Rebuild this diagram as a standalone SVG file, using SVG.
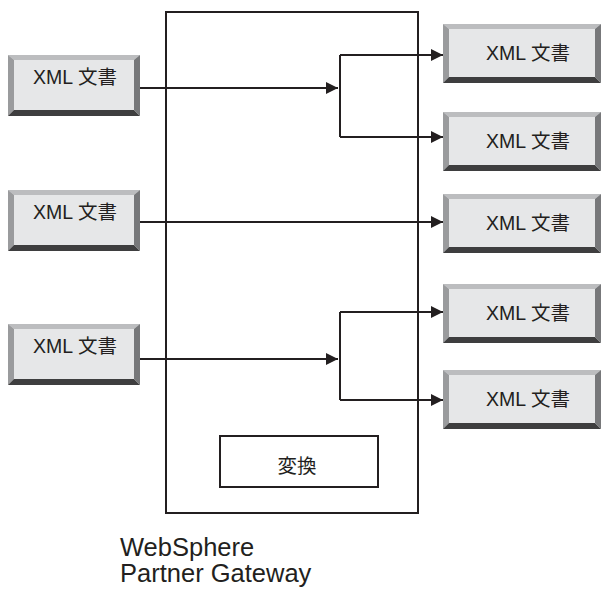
<svg xmlns="http://www.w3.org/2000/svg" xmlns:xlink="http://www.w3.org/1999/xlink" width="601" height="589" viewBox="0 0 601 589">
<style>
.face{fill:#e6e7e8}
.bt{fill:#bcbdbf}
.bl{fill:#9a9b9d}
.bb{fill:#3e3e3f}
.br{fill:#77787a}
.lbl{font-family:"Liberation Sans","Noto Sans CJK JP",sans-serif;font-size:19.5px;fill:#231f20;text-anchor:middle}
.box{fill:none;stroke:#231f20;stroke-width:2}
.con{fill:none;stroke:#231f20;stroke-width:2}
.cap{font-family:"Liberation Sans","Noto Sans CJK JP",sans-serif;font-size:25.5px;fill:#231f20}
</style>
<defs>
<marker id="ah" markerUnits="userSpaceOnUse" markerWidth="12" markerHeight="12" refX="12" refY="6" orient="auto">
<path d="M0,0 L12,6 L0,12 z" fill="#231f20"/>
</marker>
<g id="btnL">
<rect class="face" x="0" y="0" width="132" height="61"/>
<polygon class="bt" points="0,0 132,0 126,5 6,5"/>
<polygon class="bl" points="0,0 6,5 6,55 0,61"/>
<polygon class="bb" points="0,61 6,55 126,55 132,61"/>
<polygon class="br" points="132,0 132,61 126,55 126,5"/>
</g>
<g id="btnR">
<rect class="face" x="0" y="0" width="158" height="59"/>
<polygon class="bt" points="0,0 158,0 152,5 6,5"/>
<polygon class="bl" points="0,0 6,5 6,53 0,59"/>
<polygon class="bb" points="0,59 6,53 152,53 158,59"/>
<polygon class="br" points="158,0 158,59 152,53 152,5"/>
</g>
</defs>
<rect width="601" height="589" fill="#ffffff"/>
<g id="gateway">
<rect class="box" x="166" y="12" width="252" height="501"/>
</g>
<g id="transform">
<rect class="box" x="220" y="436" width="158" height="51"/>
<text class="lbl" x="297" y="473">変換</text>
</g>
<g id="in1"><use xlink:href="#btnL" x="8" y="55"/><text class="lbl" x="75" y="84">XML 文書</text></g>
<g id="in2"><use xlink:href="#btnL" x="8" y="190"/><text class="lbl" x="75" y="219">XML 文書</text></g>
<g id="in3"><use xlink:href="#btnL" x="8" y="324"/><text class="lbl" x="75" y="353">XML 文書</text></g>
<g id="out1"><use xlink:href="#btnR" x="443" y="24"/><text class="lbl" x="528" y="60">XML 文書</text></g>
<g id="out2"><use xlink:href="#btnR" x="443" y="112"/><text class="lbl" x="528" y="148">XML 文書</text></g>
<g id="out3"><use xlink:href="#btnR" x="443" y="194"/><text class="lbl" x="528" y="230">XML 文書</text></g>
<g id="out4"><use xlink:href="#btnR" x="443" y="284"/><text class="lbl" x="528" y="320">XML 文書</text></g>
<g id="out5"><use xlink:href="#btnR" x="443" y="370"/><text class="lbl" x="528" y="406">XML 文書</text></g>
<g id="connectors">
<path class="con" d="M140,88 H338" marker-end="url(#ah)"/>
<path class="con" d="M340,55 V137"/>
<path class="con" d="M340,55 H443" marker-end="url(#ah)"/>
<path class="con" d="M340,137 H443" marker-end="url(#ah)"/>
<path class="con" d="M140,222 H443" marker-end="url(#ah)"/>
<path class="con" d="M140,359 H338" marker-end="url(#ah)"/>
<path class="con" d="M340,312 V400"/>
<path class="con" d="M340,312 H443" marker-end="url(#ah)"/>
<path class="con" d="M340,400 H443" marker-end="url(#ah)"/>
</g>
<g id="caption">
<text class="cap" x="120" y="556">WebSphere</text>
<text class="cap" x="120" y="582">Partner Gateway</text>
</g>
</svg>
